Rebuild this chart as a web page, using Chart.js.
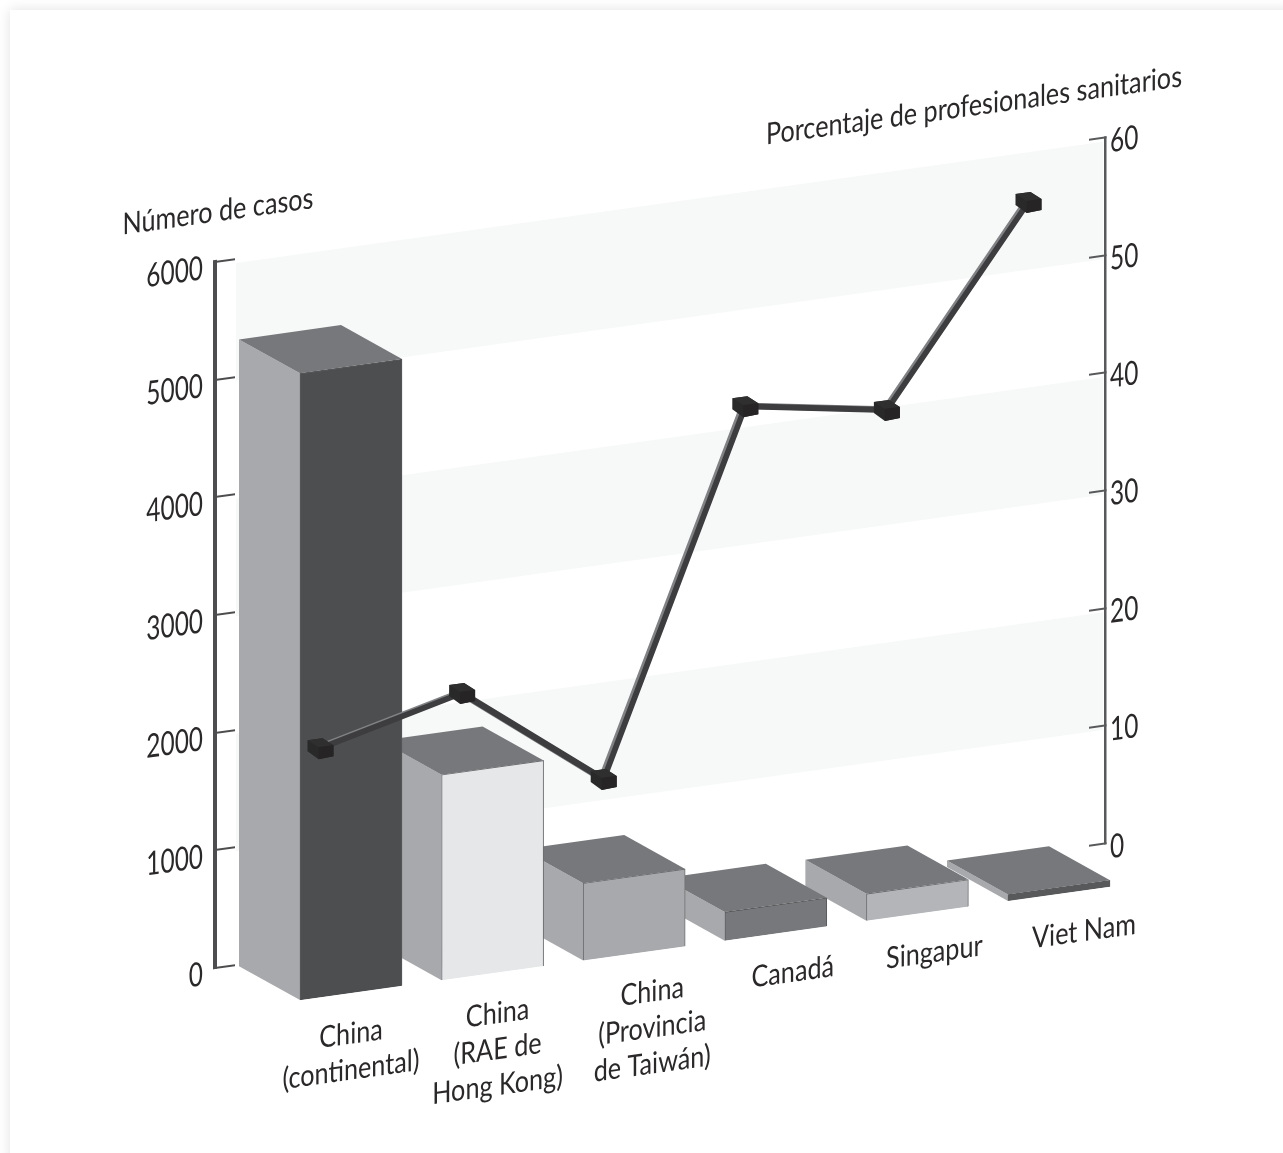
<!DOCTYPE html>
<html lang="es">
<head>
<meta charset="utf-8">
<title>Casos y profesionales sanitarios</title>
<script src="https://cdn.jsdelivr.net/npm/chart.js@4/dist/chart.umd.min.js"></script>
<style>
  html, body { margin: 0; background: #fff; }
  .card { position: absolute; left: 10px; top: 10px; width: 1283px; height: 1153px; background: #fff; box-shadow: 0 0 12px rgba(0,0,0,.12); }
  canvas { position: absolute; left: 0; top: 0; }
</style>
</head>
<body>
<div class="card"></div>
<canvas id="chart" width="1283" height="1153"></canvas>
<script>
/* ── Datos ───────────────────────────────────────────────── */
const CATEGORIES = [
  ['China', '(continental)'],
  ['China', '(RAE de', 'Hong Kong)'],
  ['China', '(Provincia', 'de Taiwán)'],
  'Canadá',
  'Singapur',
  'Viet Nam',
];
const CASES      = [5335, 1755, 665, 251, 238, 63];
const PCT_HEALTH = [19, 22, 13, 43, 41, 57];

const TITLE_LEFT  = 'Número de casos';
const TITLE_RIGHT = 'Porcentaje de profesionales sanitarios';

/* ── Estilo ──────────────────────────────────────────────── */
const FONT = "Lato,'Open Sans',sans-serif";
const INK  = '#2b2829';
const FRONT_COLORS = ['#4d4e50', '#e6e7e8', '#a7a9ac', '#77787b', '#b3b5b8', '#58595b'];
const EDGE_COLORS  = ['#58595b', '#6d6e71', '#6d6e71', '#58595b', '#6d6e71', '#58595b'];
const SIDE_COLOR = '#a7a9ac';
const TOP_COLOR  = '#77787b';
const BAND_COLOR = '#f7f9f8';

const SKEW = 0.14;                 // pendiente del plano de la gráfica
const PIVOT_X = 215;
const TEXT_NARROW = 0.84;          // no hay fuente estrecha instalada
const DIGIT_NARROW = 0.74;
const DIGIT_DROP = 5;
const BOX_DEPTH = { x: -61, y: -42.5 };
const TICK_NUDGE = [0, 5, 18, 17, 17, 25];

/* ── Plugin: plano oblicuo, paredes y cajas ──────────────── */
const oblique = {
  id: 'oblique',
  afterLayout(chart) {
    // las cajas tienen su propio paso, distinto al ancho entre ejes
    const x = chart.scales.x;
    x.left = 280.2;
    x.right = 1129.8;
    x.width = x.right - x.left;
    x.configure();
    const pixelForTick = x.getPixelForTick;
    if (!x.nudged) {
      x.getPixelForTick = function (i) { return pixelForTick.call(this, i) + TICK_NUDGE[i]; };
      x.nudged = true;
    }
  },
  beforeDraw(chart) {
    const { ctx, scales: { y } } = chart;
    ctx.save();
    ctx.transform(1, -SKEW, 0, 1, 0, SKEW * PIVOT_X);
    // toda la rotulación sale estrechada alrededor de su punto de anclaje
    const fillText = ctx.fillText;
    ctx.fillText = function (text, px, py) {
      const digits = /^\d+$/.test(text);
      this.save();
      this.translate(px, py + (digits ? DIGIT_DROP : 0));
      this.scale(digits ? DIGIT_NARROW : TEXT_NARROW, 1);
      fillText.call(this, text, 0, 0);
      this.restore();
    };
    // franjas alternas de la pared del fondo
    ctx.fillStyle = BAND_COLOR;
    for (const [hi, lo] of [[6000, 5000], [4000, 3000], [2000, 1000]]) {
      const top = y.getPixelForValue(hi) + 4;
      ctx.fillRect(236, top, 1103 - 236, y.getPixelForValue(lo) + 4 - top);
    }
    // títulos de los ejes
    ctx.fillStyle = INK;
    ctx.textAlign = 'center';
    ctx.textBaseline = 'middle';
    ctx.font = `30px ${FONT}`;
    ctx.fillText(TITLE_LEFT, 218, 212);
    ctx.fillText(TITLE_RIGHT, 974, 212);
  },
  beforeDatasetDraw(chart, args) {
    const { ctx } = chart;
    const ds = chart.data.datasets[args.index];
    ctx.save();
    ctx.translate(ds.plane.x, ds.plane.y);
    if (ds.type === 'bar') drawBoxSides(ctx, args.meta.data);
  },
  afterDatasetDraw(chart, args) {
    const { ctx } = chart;
    if (chart.data.datasets[args.index].cubes) drawCubes(ctx, args.meta.data);
    ctx.restore();
  },
  afterDraw(chart) {
    delete chart.ctx.fillText;
    chart.ctx.restore();
  },
};

function poly(ctx, color, pts) {
  ctx.fillStyle = color;
  ctx.beginPath();
  pts.forEach(([px, py], i) => (i ? ctx.lineTo(px, py) : ctx.moveTo(px, py)));
  ctx.closePath();
  ctx.fill();
}

// caras lateral y superior, de derecha a izquierda; el frontal lo pinta la barra
function drawBoxSides(ctx, bars) {
  const d = BOX_DEPTH;
  [...bars].reverse().forEach(bar => {
    const { x, y, base, width } = bar.getProps(['x', 'y', 'base', 'width'], true);
    const l = x - width / 2, r = x + width / 2;
    poly(ctx, SIDE_COLOR, [[l, y], [l + d.x, y + d.y], [l + d.x, base + d.y], [l, base]]);
    poly(ctx, TOP_COLOR, [[l, y], [l + d.x, y + d.y], [r + d.x, y + d.y], [r, y]]);
  });
}

// marcador en forma de cubo sobre cada punto de la línea
function drawCubes(ctx, points) {
  const off = ([dx, dy]) => [dx, dy + SKEW * dx];
  const hull  = [[-13, -8], [2, -10], [13, -3], [13, 8], [-2, 11], [-13, 3]].map(off);
  const top   = [[-13, -8], [2, -10], [13, -3], [-2, -1]].map(off);
  const front = [[-2, -1], [13, -3], [13, 8], [-2, 11]].map(off);
  points.forEach(p => {
    const at = ([dx, dy]) => [p.x + dx, p.y + dy];
    poly(ctx, '#2a2929', hull.map(at));   // silueta entera, sin juntas claras entre caras
    poly(ctx, '#302f30', top.map(at));
    poly(ctx, '#262425', front.map(at));
  });
}

/* ── Gráfica ─────────────────────────────────────────────── */
new Chart(document.getElementById('chart'), {
  data: {
    labels: CATEGORIES,
    datasets: [
      {
        type: 'line', order: 1, yAxisID: 'y1', data: PCT_HEALTH, clip: false,
        borderColor: '#3d3d3f', borderWidth: 6, pointRadius: 0, tension: 0,
        plane: { x: -30.5, y: 18.5 }, cubes: true,
      },
      {
        type: 'line', order: 2, yAxisID: 'y1', data: PCT_HEALTH, clip: false,
        borderColor: '#808285', borderWidth: 6, pointRadius: 0, tension: 0,
        plane: { x: -33, y: 17.5 },
      },
      {
        type: 'bar', order: 3, yAxisID: 'y', data: CASES, clip: false,
        backgroundColor: FRONT_COLORS, borderColor: EDGE_COLORS, borderWidth: 1,
        barThickness: 102,
        plane: { x: 0, y: 45 },
      },
    ],
  },
  options: {
    responsive: false,
    animation: false,
    layout: { padding: { top: 262, left: 0, right: 0, bottom: 0 } },
    plugins: { legend: { display: false }, tooltip: { enabled: false } },
    scales: {
      x: {
        afterFit: s => { s.height = 185; },
        grid: { display: false },
        border: { display: false },
        ticks: {
          color: INK, padding: 59, autoSkip: false, maxRotation: 0, minRotation: 0,
          font: { family: FONT, size: 30, lineHeight: 1.2 },
        },
      },
      y: {
        position: 'left', min: 0, max: 6000,
        afterFit: s => { s.width = 215; },
        border: { color: '#4d4d4f', width: 4 },
        grid: { drawOnChartArea: false, tickLength: -20, color: '#4d4d4f', lineWidth: 2 },
        ticks: { stepSize: 1000, color: INK, padding: 32, font: { family: FONT, size: 33 }, callback: v => String(v) },
      },
      y1: {
        position: 'right', min: 0, max: 60,
        afterFit: s => { s.width = 178; },
        border: { color: '#58595b', width: 2.5 },
        grid: { drawOnChartArea: false, tickLength: -16, color: '#58595b', lineWidth: 2 },
        ticks: { stepSize: 10, color: INK, padding: 21, font: { family: FONT, size: 33 } },
      },
    },
  },
  plugins: [oblique],
});
</script>
</body>
</html>
